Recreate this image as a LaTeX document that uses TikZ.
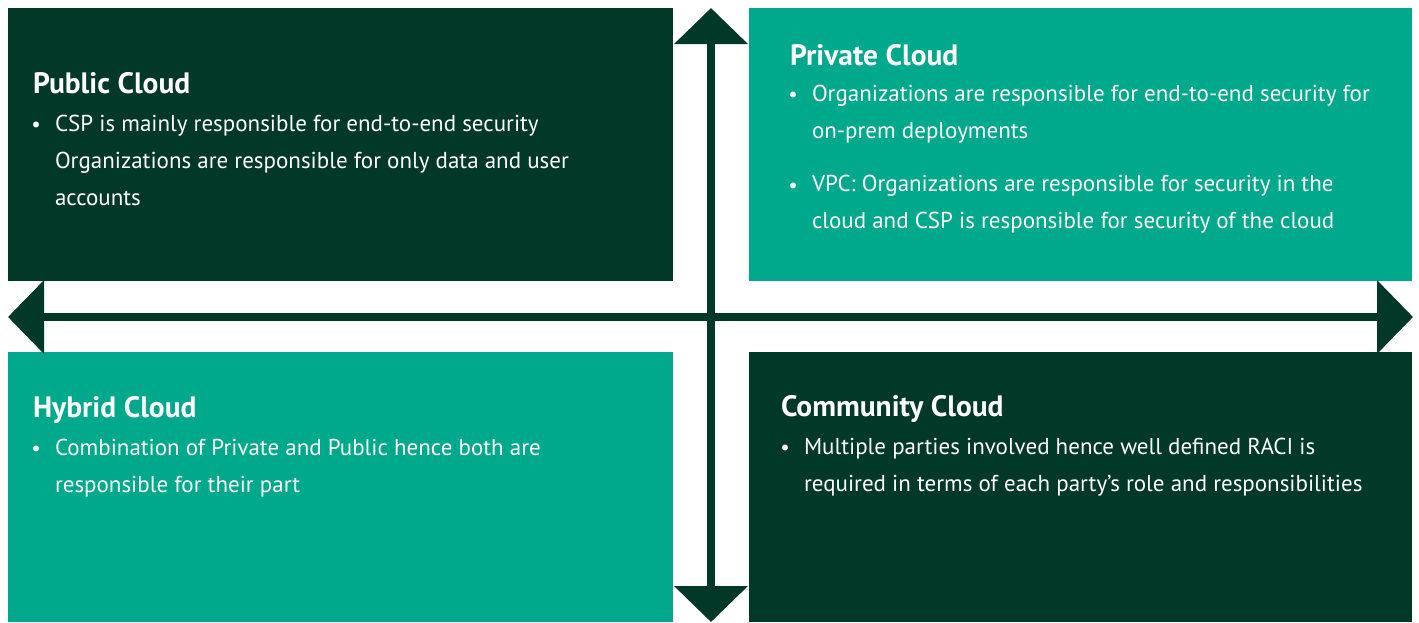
\documentclass[tikz,border=0pt]{standalone}
\usepackage{fontspec}
\setmainfont{PT Sans}
\usetikzlibrary{arrows.meta, positioning}
\definecolor{pine}{RGB}{1,56,39}
\definecolor{jade}{RGB}{0,169,139}

\begin{document}
\begin{tikzpicture}[
  x=1pt, y=-1pt,
  every node/.style={inner sep=0pt, outer sep=0pt},
  quad/.style 2 args={anchor=north west, minimum width=#1, minimum height=#2},
  title/.style={anchor=base west, text=white, font=\fontsize{29.5}{34}\selectfont\bfseries},
  body/.style={anchor=base west, text=white, align=left, font=\fontsize{23}{37}\selectfont},
  dot/.style={anchor=base, text=white, font=\fontsize{21}{37}\selectfont},
  axis/.style={draw=pine, line width=8pt,
    {Triangle[length=36pt, width=72pt]}-{Triangle[length=36pt, width=72pt]}},
]
\useasboundingbox (0,0) rectangle (1419,622);

% the four quadrants
\node[quad={664.7pt}{272.7pt}, fill=pine] (pub) at (8,8) {};
\node[quad={663pt}{272.7pt}, fill=jade] (priv) at (749,8) {};
\node[quad={664.7pt}{270pt}, fill=jade] (hyb) at (8,352) {};
\node[quad={663pt}{270pt}, fill=pine] (comm) at (749,352) {};

% public cloud (body nodes sit on their last baseline)
\node[title] (pubT) at (33,93) {Public Cloud};
\node[dot] (pubD) at (36,131) {•};
\node[body] (pubB) at (55,205) {CSP is mainly responsible for end-to-end security\\
  Organizations are responsible for only data and user\\ accounts};

% private cloud
\node[title] (privT) at (790,65) {Private Cloud};
\node[dot] (privD1) at (793,101) {•};
\node[body] (privB1) at (812,138) {Organizations are responsible for end-to-end security for\\
  on-prem deployments};
\node[dot] (privD2) at (793,192) {•};
\node[body] (privB2) at (812,228) {VPC: Organizations are responsible for security in the\\
  cloud and CSP is responsible for security of the cloud};

% hybrid cloud
\node[title] (hybT) at (33,417) {Hybrid Cloud};
\node[dot] (hybD) at (36,455) {•};
\node[body] (hybB) at (55,492) {Combination of Private and Public hence both are\\
  responsible for their part};

% community cloud
\node[title] (commT) at (781,416) {Community Cloud};
\node[dot] (commD) at (785,454) {•};
\node[body] (commB) at (804,491) {Multiple parties involved hence well defined RACI is\\
  required in terms of each party’s role and responsibilities};

% axes
\coordinate (up) at (711,8);
\coordinate (down) at (711,622);
\coordinate (west) at (8,317);
\coordinate (east) at (1413,317);
\draw[axis] (west) -- (east);
\draw[axis] (up) -- (down);
\end{tikzpicture}
\end{document}
